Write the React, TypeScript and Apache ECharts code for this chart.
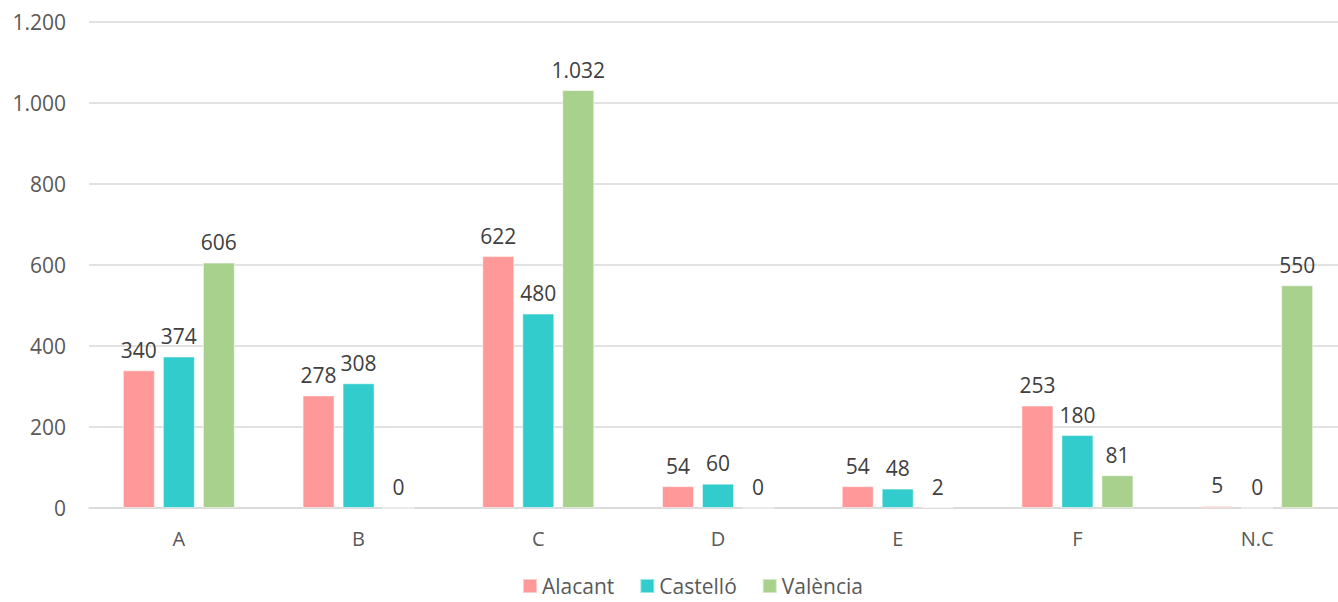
import React, { useEffect, useRef } from "react";
import * as echarts from "echarts";

const categories = ["A", "B", "C", "D", "E", "F", "N.C"];
const alacant = [340, 278, 622, 54, 54, 253, 5];
const castello = [374, 308, 480, 60, 48, 180, 0];
const valencia = [606, 0, 1032, 0, 2, 81, 550];
const seriesNames = ["Alacant", "Castelló", "València"];
const colors = ["#FF9999", "#33CCCC", "#A9D18E"];

const fmt = (v: number) => String(v).replace(/\B(?=(\d{3})+(?!\d))/g, ".");

export default function App() {
  const ref = useRef<HTMLDivElement>(null);
  useEffect(() => {
    document.body.style.margin = "0";
    document.body.style.overflow = "hidden";
    const chart = echarts.init(ref.current!, null, { renderer: "svg" });
    const font = "'Open Sans', sans-serif";
    const data = [alacant, castello, valencia];
    chart.setOption({
      animation: false,
      textStyle: { fontFamily: font },
      grid: { left: 89, right: 0, top: 22, bottom: 94, containLabel: false },
      legend: {
        top: 575,
        left: 522,
        padding: 0,
        itemWidth: 14,
        itemHeight: 14,
        itemGap: 25,
        icon: "rect",
        textStyle: { fontSize: 21, lineHeight: 22, color: "#595959", fontFamily: font },
        data: seriesNames,
      },
      xAxis: {
        type: "category",
        data: categories,
        axisLine: { lineStyle: { color: "#D9D9D9", width: 1.5 } },
        axisTick: { show: false },
        axisLabel: { color: "#595959", fontSize: 20, margin: 20, fontFamily: font },
      },
      yAxis: {
        type: "value",
        min: 0,
        max: 1200,
        interval: 200,
        axisLine: { show: false },
        axisTick: { show: false },
        splitLine: { lineStyle: { color: "#D9D9D9", width: 1.5 } },
        axisLabel: {
          color: "#595959",
          fontSize: 21,
          margin: 23,
          fontFamily: font,
          formatter: (v: number) => fmt(v),
        },
      },
      series: seriesNames.map((name, i) => ({
        name,
        type: "bar",
        data: data[i],
        barWidth: 32,
        barGap: "25%",
        itemStyle: { color: colors[i], borderColor: "rgba(255,255,255,0.5)", borderWidth: 1 },
        label: {
          show: true,
          position: "top",
          distance: 10,
          color: "#404040",
          fontSize: 21,
          fontFamily: font,
          formatter: (p: any) => fmt(p.value),
        },
      })),
    });
    return () => chart.dispose();
  }, []);
  return (
    <div style={{ width: 1338, height: 602, position: "absolute", left: 0, top: 0, overflow: "hidden" }}>
      <div ref={ref} style={{ width: 1347, height: 602 }} />
    </div>
  );
}
